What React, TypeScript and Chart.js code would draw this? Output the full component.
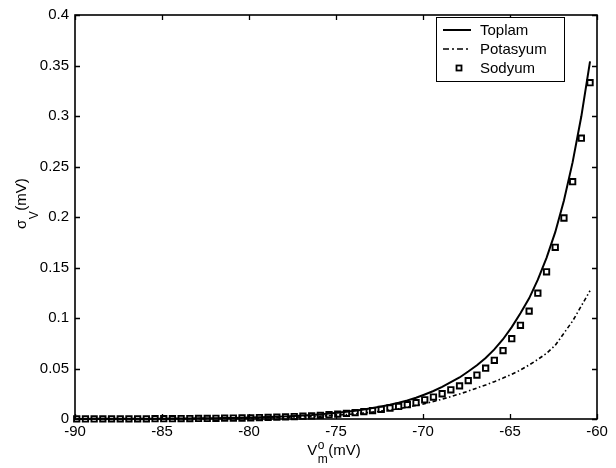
import React, { useEffect, useRef } from "react";
import { Chart, registerables } from "chart.js";

Chart.register(...registerables);

// Membrane potential grid (mV)
const vm = [
  -89.9, -89.4, -88.9, -88.4, -87.9, -87.4, -86.9, -86.4, -85.9, -85.4,
  -84.9, -84.4, -83.9, -83.4, -82.9, -82.4, -81.9, -81.4, -80.9, -80.4,
  -79.9, -79.4, -78.9, -78.4, -77.9, -77.4, -76.9, -76.4, -75.9, -75.4,
  -74.9, -74.4, -73.9, -73.4, -72.9, -72.4, -71.9, -71.4, -70.9, -70.4,
  -69.9, -69.4, -68.9, -68.4, -67.9, -67.4, -66.9, -66.4, -65.9, -65.4,
  -64.9, -64.4, -63.9, -63.4, -62.9, -62.4, -61.9, -61.4, -60.9, -60.4,
];

const toplam = [
  0.00009, 0.00012, 0.00013, 0.00014, 0.00017, 0.00019, 0.00021, 0.00024, 0.00027, 0.00032,
  0.00036, 0.00041, 0.00048, 0.00054, 0.00062, 0.00071, 0.00081, 0.00093, 0.00106, 0.00122,
  0.0014, 0.0017, 0.0019, 0.0022, 0.0026, 0.003, 0.0035, 0.004, 0.0047, 0.0054,
  0.0062, 0.0071, 0.0082, 0.0094, 0.0108, 0.0124, 0.0141, 0.0161, 0.0184, 0.021,
  0.0243, 0.0277, 0.0318, 0.0364, 0.0411, 0.047, 0.0532, 0.0605, 0.0689, 0.079,
  0.091, 0.1047, 0.1195, 0.1379, 0.1596, 0.185, 0.2164, 0.2543, 0.2997, 0.354,
];

const potasyum = [
  0.00005, 0.00006, 0.00007, 0.00008, 0.00009, 0.0001, 0.00011, 0.00013, 0.00015, 0.00017,
  0.00019, 0.00022, 0.00026, 0.0003, 0.00034, 0.00039, 0.00045, 0.00052, 0.0006, 0.0007,
  0.0008, 0.0009, 0.0011, 0.0013, 0.0015, 0.0018, 0.0021, 0.0024, 0.0028, 0.0033,
  0.0038, 0.0044, 0.0051, 0.0059, 0.0068, 0.0078, 0.0089, 0.0102, 0.0117, 0.0133,
  0.0152, 0.0173, 0.0196, 0.0222, 0.0248, 0.0276, 0.0307, 0.0337, 0.037, 0.0405,
  0.0443, 0.0485, 0.0535, 0.059, 0.065, 0.073, 0.085, 0.097, 0.112, 0.127,
];

const sodyum = [
  0.00008, 0.0001, 0.00011, 0.00012, 0.00014, 0.00016, 0.00018, 0.0002, 0.00023, 0.00027,
  0.0003, 0.00035, 0.0004, 0.00045, 0.00052, 0.00059, 0.00067, 0.00077, 0.00088, 0.001,
  0.0012, 0.0014, 0.0016, 0.0018, 0.0021, 0.0024, 0.0028, 0.0032, 0.0037, 0.0043,
  0.0049, 0.0056, 0.0064, 0.0073, 0.0084, 0.0096, 0.0109, 0.0124, 0.0142, 0.0162,
  0.019, 0.0217, 0.025, 0.0289, 0.0328, 0.038, 0.0435, 0.0503, 0.0581, 0.0678,
  0.0795, 0.0928, 0.1068, 0.1246, 0.1457, 0.17, 0.199, 0.235, 0.278, 0.333,
];

const xTicks = [-90, -85, -80, -75, -70, -65, -60];
const yTicks = [0, 0.05, 0.1, 0.15, 0.2, 0.25, 0.3, 0.35, 0.4];
const seriesNames = ["Toplam", "Potasyum", "Sodyum"];

const FONT = "'Liberation Sans', Arial, Helvetica, sans-serif";

const framePlugin = {
  id: "matlabFrame",
  afterDraw(chart: any) {
    const { ctx, chartArea: a, scales } = chart;
    const xs = scales.x;
    const ys = scales.y;
    ctx.save();
    ctx.strokeStyle = "#000";
    ctx.fillStyle = "#000";

    // box
    ctx.lineWidth = 1.6;
    ctx.setLineDash([]);
    ctx.strokeRect(a.left, a.top, a.right - a.left, a.bottom - a.top);

    // inward ticks
    const tl = 5;
    ctx.lineWidth = 1.3;
    ctx.beginPath();
    for (const v of xTicks) {
      const px = Math.round(xs.getPixelForValue(v)) + 0.5;
      ctx.moveTo(px, a.bottom);
      ctx.lineTo(px, a.bottom - tl);
      ctx.moveTo(px, a.top);
      ctx.lineTo(px, a.top + tl);
    }
    for (const v of yTicks) {
      const py = Math.round(ys.getPixelForValue(v)) + 0.5;
      ctx.moveTo(a.left, py);
      ctx.lineTo(a.left + tl, py);
      ctx.moveTo(a.right, py);
      ctx.lineTo(a.right - tl, py);
    }
    ctx.stroke();

    // legend
    const lx = 436, ly = 17, lw = 128, lh = 64;
    ctx.fillStyle = "#fff";
    ctx.fillRect(lx, ly, lw, lh);
    ctx.fillStyle = "#000";
    ctx.lineWidth = 1;
    ctx.strokeRect(lx + 0.5, ly + 0.5, lw, lh);
    const rows = [30, 49, 68];
    ctx.font = `15px ${FONT}`;
    ctx.textBaseline = "middle";
    ctx.textAlign = "left";
    // Toplam
    ctx.lineWidth = 2;
    ctx.beginPath();
    ctx.moveTo(443, rows[0]);
    ctx.lineTo(471, rows[0]);
    ctx.stroke();
    // Potasyum
    ctx.lineWidth = 1.7;
    ctx.setLineDash([6, 3, 2, 3]);
    ctx.beginPath();
    ctx.moveTo(443, rows[1]);
    ctx.lineTo(471, rows[1]);
    ctx.stroke();
    ctx.setLineDash([]);
    // Sodyum marker
    ctx.lineWidth = 1.8;
    ctx.fillStyle = "#fff";
    ctx.fillRect(456.5, rows[2] - 2.5, 5, 5);
    ctx.strokeRect(456.5, rows[2] - 2.5, 5, 5);
    ctx.fillStyle = "#000";
    seriesNames.forEach((n, i) => ctx.fillText(n, 480, rows[i] + 0.5));

    // x title: V^o_m(mV)
    ctx.textBaseline = "alphabetic";
    const big = `15px ${FONT}`;
    const small = `12px ${FONT}`;
    ctx.font = big;
    const wV = ctx.measureText("V").width;
    const wU = ctx.measureText("(mV)").width;
    ctx.font = small;
    const wo = ctx.measureText("o").width;
    const wm = ctx.measureText("m").width;
    const wS = Math.max(wo, wm);
    const total = wV + wS + 1 + wU;
    const x0 = (a.left + a.right) / 2 - total / 2 - 2;
    ctx.font = big;
    ctx.fillText("V", x0, 455);
    ctx.font = small;
    ctx.fillText("o", x0 + wV + 0.5, 449);
    ctx.fillText("m", x0 + wV + 0.5, 463);
    ctx.font = big;
    ctx.fillText("(mV)", x0 + wV + wS + 1, 455);

    // y title: sigma_V(mV)
    ctx.save();
    ctx.translate(26, 229);
    ctx.rotate(-Math.PI / 2);
    ctx.font = big;
    const wSig = ctx.measureText("σ").width;
    ctx.fillText("σ", 0, 0);
    ctx.font = small;
    const wVs = ctx.measureText("V").width;
    ctx.fillText("V", wSig + 0.5, 12);
    ctx.font = big;
    ctx.fillText("(mV)", wSig + wVs + 1, 0);
    ctx.restore();

    ctx.restore();
  },
};

export default function App() {
  const canvasRef = useRef<HTMLCanvasElement | null>(null);

  useEffect(() => {
    document.body.style.margin = "0";
    const canvas = canvasRef.current;
    if (!canvas) return;
    const toPts = (ys: number[]) => vm.map((x, i) => ({ x, y: ys[i] }));
    const chart = new Chart(canvas, {
      type: "line",
      data: {
        datasets: [
          {
            label: seriesNames[0],
            data: toPts(toplam),
            borderColor: "#000",
            borderWidth: 2,
            pointRadius: 0,
            tension: 0,
            fill: false,
            clip: false as any,
          },
          {
            label: seriesNames[1],
            data: toPts(potasyum),
            borderColor: "#000",
            borderWidth: 1.6,
            borderDash: [4, 2.5, 1.5, 2.5],
            pointRadius: 0,
            tension: 0,
            fill: false,
            clip: false as any,
          },
          {
            label: seriesNames[2],
            data: toPts(sodyum),
            showLine: false,
            borderColor: "#000",
            backgroundColor: "#fff",
            pointStyle: "rect",
            pointRadius: 3.8,
            pointBorderWidth: 1.9,
            pointBackgroundColor: "#fff",
            pointBorderColor: "#000",
            clip: false as any,
          },
        ],
      },
      options: {
        responsive: false,
        animation: false,
        devicePixelRatio: 1,
        layout: { padding: { top: 8, right: 19, left: 0, bottom: 0 } },
        plugins: {
          legend: { display: false },
          tooltip: { enabled: false },
          title: { display: false },
        },
        scales: {
          x: {
            type: "linear",
            min: -90,
            max: -60,
            afterBuildTicks: (s: any) => {
              s.ticks = xTicks.map((v) => ({ value: v }));
            },
            afterFit: (s: any) => {
              s.height = 49;
            },
            ticks: {
              autoSkip: false,
              maxRotation: 0,
              padding: 4,
              color: "#000",
              font: { family: FONT, size: 15 },
              callback: (v: any) => String(v),
            },
            grid: { display: false, drawTicks: false },
            border: { display: false },
          },
          y: {
            type: "linear",
            min: 0,
            max: 0.4,
            afterBuildTicks: (s: any) => {
              s.ticks = yTicks.map((v) => ({ value: v }));
            },
            afterFit: (s: any) => {
              s.width = 75;
            },
            ticks: {
              autoSkip: false,
              padding: 6,
              color: "#000",
              font: { family: FONT, size: 15 },
              callback: (v: any) => String(Number(Number(v).toFixed(2))),
            },
            grid: { display: false, drawTicks: false },
            border: { display: false },
          },
        },
      },
      plugins: [framePlugin],
    });
    return () => chart.destroy();
  }, []);

  return (
    <div style={{ width: 616, height: 468, background: "#fff" }}>
      <canvas ref={canvasRef} width={616} height={468} style={{ display: "block" }} />
    </div>
  );
}
